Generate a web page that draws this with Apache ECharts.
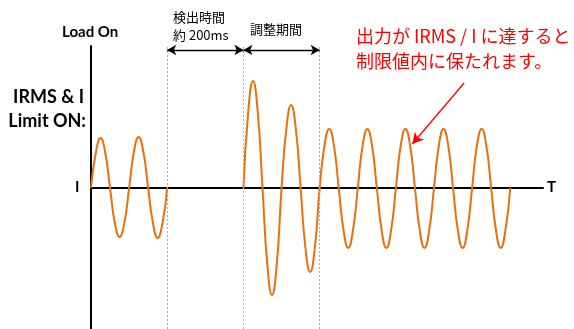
<!DOCTYPE html>
<html>
<head>
<meta charset="utf-8">
<script src="https://cdn.jsdelivr.net/npm/echarts@6/dist/echarts.min.js"></script>
<style>
  html, body { margin: 0; padding: 0; background: #fff; }
  #chart { width: 574px; height: 329px; }
</style>
</head>
<body>
<div id="chart"></div>
<script>
// 時間 (周期単位, 1/8 周期ごと) と 電流値
const burstTime = [0, 0.125, 0.25, 0.375, 0.5, 0.625, 0.75, 0.875,
  1, 1.125, 1.25, 1.375, 1.5, 1.625, 1.75, 1.875, 2];
const burstValue = [0, 35, 50, 35, 0, -35, -49, -35,
  0, 36, 51, 36, 0, -35, -50, -35, 0];

const limitTime = [4, 4.125, 4.25, 4.375, 4.5, 4.625, 4.75, 4.875,
  5, 5.125, 5.25, 5.375, 5.5, 5.625, 5.75, 5.875,
  6, 6.125, 6.25, 6.375, 6.5, 6.625, 6.75, 6.875,
  7, 7.125, 7.25, 7.375, 7.5, 7.625, 7.75, 7.875,
  8, 8.125, 8.25, 8.375, 8.5, 8.625, 8.75, 8.875,
  9, 9.125, 9.25, 9.375, 9.5, 9.625, 9.75, 9.875,
  10, 10.125, 10.25, 10.375, 10.5, 10.625, 10.75, 10.875, 11];
const limitValue = [0, 76, 107, 76, 0, -76, -107, -76,
  0, 59, 83, 59, 0, -59, -84, -59,
  0, 42, 59, 42, 0, -42, -60, -42,
  0, 42, 59, 42, 0, -42, -60, -42,
  0, 42, 59, 42, 0, -42, -60, -42,
  0, 42, 59, 42, 0, -42, -60, -42,
  0, 42, 59, 42, 0, -42, -60, -42, 0];

// 区間の境界 (点線)
const markerTimes = [2, 4, 6];
const periodLabels = ['検出時間\n約 200ms', '調整期間'];

let chartDom = document.getElementById('chart');
let myChart = echarts.init(chartDom);

let waveData = burstTime.map((t, i) => [t, burstValue[i]]);
waveData.push([3, null]);
limitTime.forEach((t, i) => waveData.push([t, limitValue[i]]));

const latin = 'Lato, "Noto Sans CJK JP", sans-serif';
const jp = '"Noto Sans CJK JP", sans-serif';

let option = {
  animation: false,
  grid: { left: 91, top: 46, width: 452, height: 283, containLabel: false },
  xAxis: {
    type: 'value',
    min: 0,
    max: 11.86,
    axisLine: { onZero: true, lineStyle: { color: '#000', width: 2 } },
    axisTick: { show: false },
    axisLabel: { show: false },
    splitLine: { show: false }
  },
  yAxis: {
    type: 'value',
    min: -141,
    max: 142,
    axisLine: { show: true, lineStyle: { color: '#000', width: 2 } },
    axisTick: { show: false },
    axisLabel: { show: false },
    splitLine: { show: false }
  },
  series: [
    {
      type: 'line',
      data: waveData,
      smooth: 0.5,
      connectNulls: false,
      symbol: 'none',
      lineStyle: { color: '#E8700E', width: 2 },
      z: 3,
      markLine: {
        silent: true,
        symbol: 'none',
        label: { show: false },
        lineStyle: { color: '#aaa', type: [2, 2], width: 1 },
        data: markerTimes.map(t => ({ xAxis: t }))
      }
    },
    {
      type: 'line',
      data: [],
      markLine: {
        silent: true,
        symbol: ['arrow', 'arrow'],
        symbolSize: [8, 9],
        label: { show: false },
        lineStyle: { color: '#000', type: 'solid', width: 1.3 },
        data: [
          [{ coord: [markerTimes[0], 138] }, { coord: [markerTimes[1], 138] }],
          [{ coord: [markerTimes[1], 138] }, { coord: [markerTimes[2], 138] }]
        ]
      }
    },
    {
      type: 'line',
      data: [],
      markLine: {
        silent: true,
        symbol: ['none', 'arrow'],
        symbolSize: [9, 11],
        label: { show: false },
        lineStyle: { color: '#FF0000', type: 'solid', width: 1.3 },
        data: [
          [{ coord: [9.79, 105] }, { coord: [8.43, 44] }]
        ]
      }
    }
  ],
  graphic: [
    { type: 'text', left: 62, top: 25, style: { text: 'Load On', font: 'bold 15px ' + latin, fill: '#000' } },
    { type: 'text', right: 490, top: 88, style: { text: 'IRMS & I', font: 'bold 18px ' + latin, fill: '#000', align: 'right' } },
    { type: 'text', right: 488, top: 112, style: { text: 'Limit ON:', font: 'bold 18px ' + latin, fill: '#000', align: 'right' } },
    { type: 'text', left: 75, top: 180, style: { text: 'I', font: 'bold 15px ' + latin, fill: '#000' } },
    { type: 'text', left: 547, top: 180, style: { text: 'T', font: 'bold 15px ' + latin, fill: '#000' } },
    { type: 'text', left: 173, top: 8, style: { text: periodLabels[0], font: '13px ' + jp, lineHeight: 18, fill: '#000' } },
    { type: 'text', left: 250, top: 23, style: { text: periodLabels[1], font: '13px ' + jp, fill: '#000' } },
    { type: 'text', left: 356, top: 24, style: { text: '出力が IRMS / I に達すると\n制限値内に保たれます。', font: '18px ' + jp, lineHeight: 25, fill: '#FF0000' } }
  ]
};

myChart.setOption(option);
</script>
</body>
</html>
